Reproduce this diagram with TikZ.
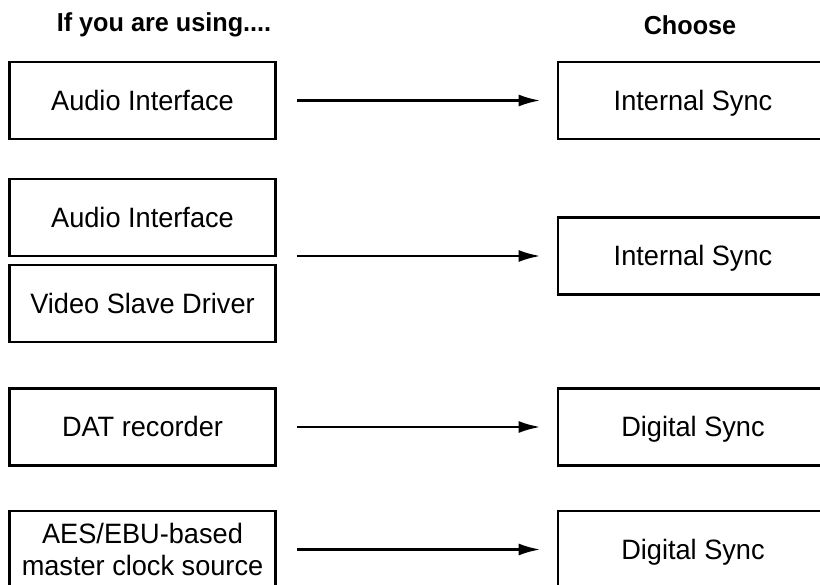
\documentclass[tikz,border=0pt]{standalone}
\usepackage{fontspec}
\setmainfont[FakeStretch=0.97]{Liberation Sans}
\usetikzlibrary{arrows.meta}
\begin{document}
\begin{tikzpicture}[x=1pt,y=-1pt,
  box/.style={draw, line width=2.8pt, minimum width=266pt, minimum height=77pt,
    inner sep=0pt, align=center, font=\fontsize{28}{32}\selectfont},
  one/.style={text height=20pt, text depth=0pt},
  rbox/.style={box, minimum width=270pt},
  head/.style={font=\fontsize{26}{30}\selectfont\bfseries},
  conn/.style={line width=2.8pt, -{Latex[length=22pt,width=12pt]}, shorten <=20pt, shorten >=16pt}]
\useasboundingbox (0,0) rectangle (820,585);
\clip (0,0) rectangle (820,585);
\node[head] (h1) at (164,25) {If you are using....};
\node[head] (h2) at (690,25) {Choose};
\node[box,one] (l1) at (142.5,100.5) {Audio Interface};
\node[box,one] (l2) at (142.5,217.5) {Audio Interface};
\node[box,one] (l3) at (142.5,303.5) {Video Slave Driver};
\node[box,one] (l4) at (142.5,427) {DAT recorder};
\node[box] (l5) at (142.5,549.5) {AES/EBU-based\\master clock source};
\node[rbox,one] (r1) at (693,100.5) {Internal Sync};
\node[rbox,one] (r2) at (693,256) {Internal Sync};
\node[rbox,one] (r3) at (693,427) {Digital Sync};
\node[rbox,one] (r4) at (693,549.5) {Digital Sync};
\coordinate (g2) at (l2.east |- r2.west);
\draw[conn] (l1) -- (r1);
\draw[conn] (g2) -- (r2);
\draw[conn] (l4) -- (r3);
\draw[conn] (l5) -- (r4);
\end{tikzpicture}
\end{document}
